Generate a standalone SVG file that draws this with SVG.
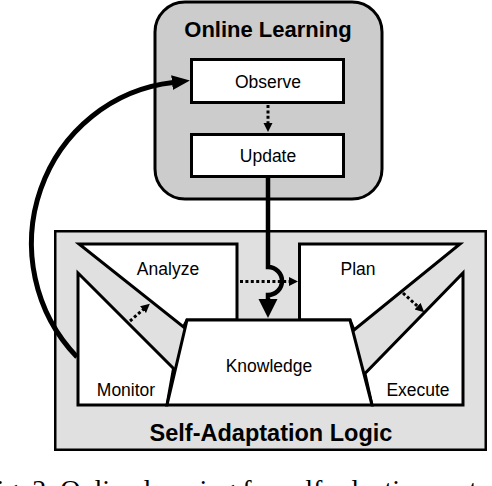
<svg xmlns="http://www.w3.org/2000/svg" width="492" height="486" viewBox="0 0 492 486">
<style>
.lbl{font-family:"Liberation Sans",Arial,sans-serif;font-size:17.5px;fill:#000;text-anchor:middle}
.ttl{font-family:"Liberation Sans",Arial,sans-serif;font-weight:bold;fill:#000;text-anchor:middle}
.box{fill:#fff;stroke:#000;stroke-width:3;stroke-linejoin:miter}
.dot{fill:none;stroke:#000;stroke-width:3;stroke-dasharray:3 2.4}
.thick{fill:none;stroke:#000}
.cap{font-family:"Liberation Serif","Times New Roman",serif;font-size:28px;fill:#000}
</style>
<defs>
<marker id="ahS" markerUnits="userSpaceOnUse" markerWidth="10" markerHeight="10" refX="1" refY="4.5" orient="auto" viewBox="0 0 10 10"><path d="M0,0 L9,4.5 L0,9 z" fill="#000"/></marker>
<marker id="ahD" markerUnits="userSpaceOnUse" markerWidth="20" markerHeight="20" refX="1" refY="9.5" orient="auto" viewBox="0 0 20 20"><path d="M0,0 L19,9.5 L0,19 z" fill="#000"/></marker>
<marker id="ahC" markerUnits="userSpaceOnUse" markerWidth="20" markerHeight="20" refX="1" refY="7.5" orient="auto" viewBox="0 0 20 20"><path d="M0,0 L18,7.5 L0,15 z" fill="#000"/></marker>
</defs>

<g id="online-learning">
<rect x="155" y="2" width="227" height="197" rx="30" ry="30" fill="#cccccc" stroke="#000" stroke-width="3"/>
<text class="ttl" x="268" y="37" font-size="22">Online Learning</text>
</g>
<g id="observe">
<rect class="box" x="191.5" y="59.5" width="152" height="43"/>
<text class="lbl" x="268" y="88">Observe</text>
</g>
<g id="update">
<rect class="box" x="191.5" y="134.5" width="152" height="42"/>
<text class="lbl" x="268" y="162">Update</text>
</g>

<g id="self-adaptation-logic">
<rect x="55.25" y="231.25" width="430.5" height="218.5" fill="#e0e0e0" stroke="#000" stroke-width="2.5"/>
<text class="ttl" x="271" y="441" font-size="23.5">Self-Adaptation Logic</text>
</g>
<g id="analyze">
<polygon class="box" points="79,244 237,244 237,320 187,320 183.5,327"/>
<text class="lbl" x="168" y="275">Analyze</text>
</g>
<g id="plan">
<polygon class="box" points="299.5,244 460,244 354,330 350,320 299.5,320"/>
<text class="lbl" x="358" y="275">Plan</text>
</g>
<g id="monitor">
<polygon class="box" points="78,273 173.5,368.5 167,405 78,405"/>
<text class="lbl" x="126" y="396">Monitor</text>
</g>
<g id="execute">
<polygon class="box" points="463,273 463,405 372,405 365,373.5"/>
<text class="lbl" x="418" y="396">Execute</text>
</g>
<g id="knowledge">
<polygon class="box" points="187,320 350,320 372,405 167,405"/>
<text class="lbl" x="269" y="372">Knowledge</text>
</g>

<g id="connectors">
<line class="dot" x1="268" y1="105" x2="268" y2="124" marker-end="url(#ahS)"/>
<line class="dot" x1="240" y1="281.5" x2="290" y2="281.5" marker-end="url(#ahS)"/>
<line class="dot" x1="130" y1="321" x2="143.8" y2="309" marker-end="url(#ahS)"/>
<line class="dot" x1="403" y1="293" x2="418.3" y2="306.9" marker-end="url(#ahS)"/>
<path class="thick" stroke-width="4.5" d="M268,178 V267 A14,14 0 0 1 268,295 V300" marker-end="url(#ahD)"/>
<path class="thick" stroke-width="5" d="M77,357 A159,162 0 0 1 173,82.5" marker-end="url(#ahC)"/>
</g>

<text class="cap" x="-19" y="499">Fig. 2. Online learning for self-adaptive systems</text>
</svg>
